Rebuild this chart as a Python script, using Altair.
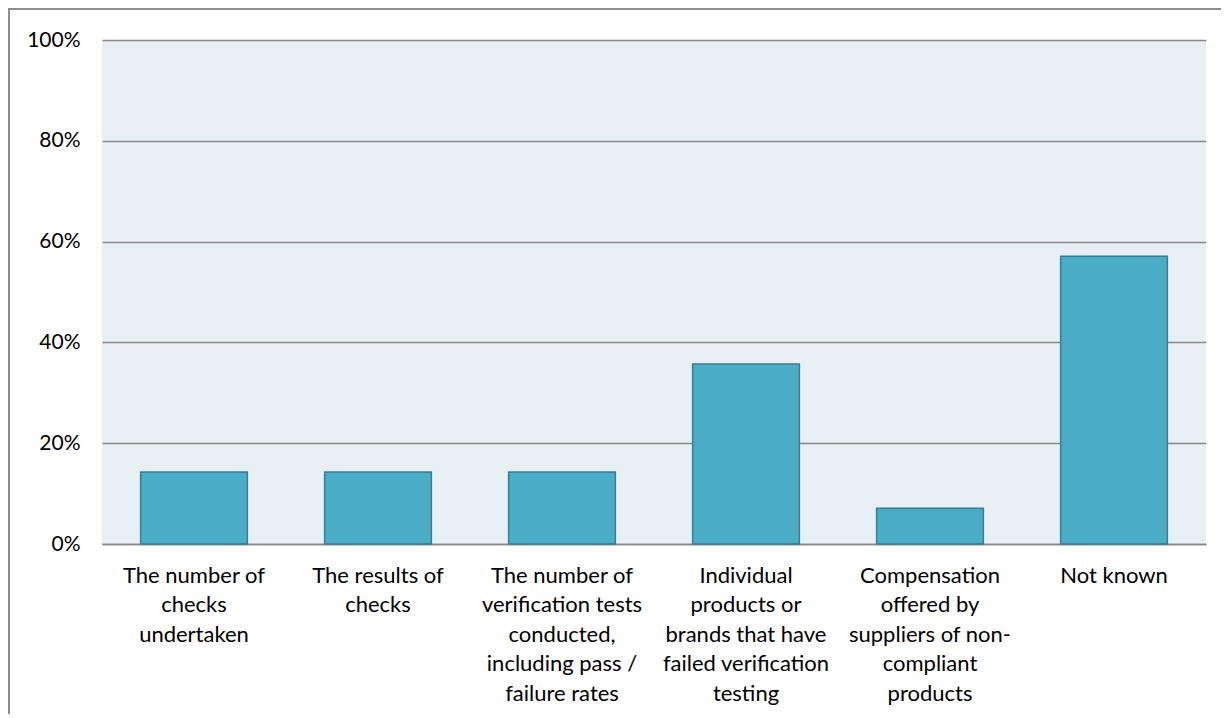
import altair as alt
import pandas as pd

categories = [
    "The number of\nchecks\nundertaken",
    "The results of\nchecks",
    "The number of\nverification tests\nconducted,\nincluding pass /\nfailure rates",
    "Individual\nproducts or\nbrands that have\nfailed verification\ntesting",
    "Compensation\noffered by\nsuppliers of non-\ncompliant\nproducts",
    "Not known",
]
values = [0.143, 0.143, 0.143, 0.357, 0.071, 0.571]
y_ticks = [0, 0.2, 0.4, 0.6, 0.8, 1.0]

df = pd.DataFrame({"cat": categories, "val": values})

FONT = "Lato"

bars = alt.Chart(df).mark_bar(
    color="#4BACC6", stroke="#357F94", strokeWidth=1.5
).encode(
    x=alt.X(
        "cat:N",
        sort=categories,
        title=None,
        scale=alt.Scale(paddingInner=0.42, paddingOuter=0.21),
        axis=alt.Axis(
            labelAngle=0,
            labelExpr="split(datum.label, '\\n')",
            labelLimit=0,
            labelFont=FONT,
            labelFontSize=22,
            labelLineHeight=29.5,
            labelColor="#000000",
            labelPadding=21,
            labelBaseline="top",
            ticks=False,
            domain=True,
            domainColor="#898989",
            domainWidth=1.5,
            grid=False,
        ),
    ),
    y=alt.Y(
        "val:Q",
        title=None,
        scale=alt.Scale(domain=[0, 1], nice=False),
        axis=alt.Axis(
            values=y_ticks,
            format=".0%",
            labelFont=FONT,
            labelFontSize=21,
            labelColor="#000000",
            labelPadding=22,
            ticks=False,
            domain=False,
            grid=True,
            gridColor="#898989",
            gridWidth=1.5,
        ),
    ),
)

frame = alt.Chart(df).mark_rect(
    fill=None, stroke="#8C8C8C", strokeWidth=2, clip=False
).encode(
    x=alt.value(-93), x2=alt.value(1300), y=alt.value(-31), y2=alt.value(900)
)

chart = alt.layer(bars, frame).properties(
    width=1104,
    height=504,
    autosize=alt.AutoSizeParams(type="none"),
    padding={"left": 94, "top": 32, "right": 15, "bottom": 170},
    background="#FFFFFF",
).configure_view(
    fill="#E8F0F3", stroke=None
)

chart.save("out.html", embed_options={"renderer": "svg", "actions": False})
